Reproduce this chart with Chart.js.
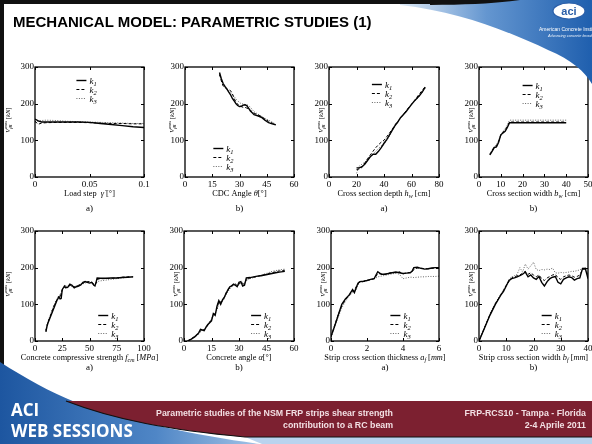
<!DOCTYPE html>
<html>
<head>
<meta charset="utf-8">
<script src="https://cdn.jsdelivr.net/npm/chart.js@4.4.1/dist/chart.umd.min.js"></script>
<style>
  html, body { margin: 0; padding: 0; }
  body { width: 592px; height: 444px; overflow: hidden; background: #fff; position: relative; }
  canvas { position: absolute; }
  #deco { position: absolute; left: 0; top: 0; z-index: 5; pointer-events: none; }
</style>
</head>
<body>
<svg id="deco" width="592" height="444">
  <defs>
    <linearGradient id="gt" x1="0" y1="0" x2="1" y2="0">
      <stop offset="0" stop-color="#dde9f6"/>
      <stop offset="0.45" stop-color="#6496d0"/>
      <stop offset="1" stop-color="#1f5fae"/>
    </linearGradient>
    <linearGradient id="gb" x1="0" y1="0" x2="1" y2="0">
      <stop offset="0" stop-color="#1d56a0"/>
      <stop offset="0.6" stop-color="#4f86c6"/>
      <stop offset="1" stop-color="#a3c3e6"/>
    </linearGradient>
  </defs>
  <!-- top bar and swoosh -->
  <path d="M400,0 L592,0 L592,84 C585,72 572,60 548,50 C505,30 460,12 400,5 Z" fill="url(#gt)"/>
  <rect x="0" y="0" width="470" height="4" fill="#111"/>
  <path d="M430,0 L520,0 C500,3 470,5 430,5 Z" fill="#111"/>
  <rect x="0" y="0" width="4" height="444" fill="#111"/>
  <ellipse cx="569" cy="11" rx="16" ry="8" fill="#fff" stroke="#2a5ea8" stroke-width="1.2"/>
  <text x="569" y="15" text-anchor="middle" font-family="Liberation Sans, Arial" font-weight="bold" font-size="11" fill="#2a5ea8">aci</text>
  <text x="539" y="31" font-family="Liberation Sans, Arial" font-size="5" fill="#fff">American Concrete Institute</text>
  <text x="548" y="37" font-family="Liberation Sans, Arial" font-style="italic" font-size="3.8" fill="#e8f0fa">Advancing concrete knowledge</text>
  <text x="13" y="27" font-family="Liberation Sans, Arial" font-weight="bold" font-size="15" fill="#000">MECHANICAL MODEL: PARAMETRIC STUDIES (1)</text>
  <!-- bottom band -->
  <path d="M0,362 C25,378 50,392 75,402 C130,422 200,436 260,444 L0,444 Z" fill="url(#gb)"/>
  <path d="M66,401 L592,401 L592,437 L245,437 C170,430 115,420 66,401 Z" fill="#7c2030"/>
  <path d="M245,437 L592,437 L592,444 L262,444 Z" fill="#b9d3ee"/>
  <path d="M66,401 C115,420 170,430 245,437 L592,437" stroke="#111" stroke-width="1.2" fill="none"/>
  <text x="11" y="416" font-family="Open Sans" font-weight="bold" font-size="17" fill="#fff">ACI</text>
  <text x="11" y="437" font-family="Open Sans" font-weight="bold" font-size="17" fill="#fff">WEB SESSIONS</text>
  <g font-family="Liberation Sans, Arial" font-weight="bold" font-size="8.8" fill="#f2dfe3" text-anchor="end">
    <text x="393" y="416">Parametric studies of the NSM FRP strips shear strength</text>
    <text x="393" y="428">contribution to a RC beam</text>
    <text x="586" y="416">FRP-RCS10  - Tampa - Florida</text>
    <text x="586" y="428">2-4 Aprile 2011</text>
  </g>
</svg>
<script>
const SERIF = "'Liberation Serif', 'Times New Roman', serif";
const yTicks = [0, 100, 200, 300];

// a) load step
const c1x  = [0, 0.003, 0.006, 0.01, 0.02, 0.03, 0.04, 0.05, 0.06, 0.07, 0.08, 0.09, 0.1];
const c1k1 = [158, 153, 150, 150, 150, 150, 150, 149, 146, 143, 140, 137, 135];
const c1k2 = [152, 144, 147, 148, 149, 149, 149, 148, 147, 146, 146, 145, 145];
const c1k3 = [150, 152, 154, 155, 154, 152, 151, 150, 149, 148, 147, 146, 146];
const c1xt = [0, 0.05, 0.1];

// b) CDC angle
const c2x  = [19, 20, 21, 22, 23, 24, 25, 26, 27, 28, 29, 30, 31, 32, 33, 34, 35, 36, 37, 38, 40, 42, 44, 46, 48, 50];
const c2k1 = [285, 268, 255, 247, 240, 232, 225, 215, 208, 200, 195, 192, 193, 196, 197, 195, 188, 180, 175, 170, 167, 163, 155, 148, 145, 142];
const c2k2 = [280, 262, 248, 245, 240, 238, 236, 228, 215, 205, 198, 195, 192, 190, 190, 188, 186, 182, 178, 174, 170, 165, 158, 152, 147, 143];
const c2k3 = [278, 265, 252, 245, 240, 235, 230, 225, 220, 213, 208, 203, 200, 199, 198, 197, 195, 190, 184, 178, 172, 166, 160, 155, 150, 144];
const c2xt = [0, 15, 30, 45, 60];

// a) cross section depth
const c3x  = [20, 22, 24, 26, 28, 30, 32, 34, 36, 38, 40, 42, 44, 46, 48, 50, 52, 54, 56, 58, 60, 62, 64, 66, 68, 70];
const c3k1 = [25, 25, 28, 35, 45, 55, 62, 62, 70, 80, 92, 102, 115, 128, 140, 150, 162, 170, 178, 188, 198, 207, 215, 223, 233, 245];
const c3k2 = [20, 22, 26, 38, 50, 60, 70, 80, 88, 95, 100, 110, 120, 130, 142, 152, 160, 170, 180, 190, 198, 208, 218, 228, 237, 247];
const c3k3 = [10, 30, 35, 40, 48, 55, 62, 70, 78, 85, 88, 100, 112, 125, 138, 150, 160, 170, 180, 188, 196, 205, 213, 222, 232, 243];
const c3xt = [0, 20, 40, 60, 80];

// b) cross section width
const c4x  = [5, 6, 7, 8, 9, 10, 11, 12, 13, 14, 20, 25, 30, 35, 40];
const c4k1 = [60, 70, 80, 82, 95, 115, 120, 125, 135, 148, 148, 148, 148, 148, 148];
const c4k2 = [62, 72, 82, 85, 97, 113, 122, 128, 138, 150, 150, 150, 150, 150, 150];
const c4k3 = [63, 74, 83, 88, 100, 115, 125, 132, 142, 155, 155, 155, 155, 155, 155];
const c4xt = [0, 10, 20, 30, 40, 50];

// a) concrete compressive strength
const c5x  = [10, 11, 12, 14, 16, 18, 20, 22, 23, 24, 25, 27, 28, 30, 32, 34, 36, 38, 40, 42, 44, 46, 48, 50, 52, 54, 55, 56, 57, 60, 65, 70, 75, 80, 85, 90];
const c5k1 = [25, 40, 50, 65, 80, 95, 110, 120, 115, 116, 140, 150, 145, 146, 155, 152, 145, 148, 150, 153, 160, 162, 160, 158, 160, 152, 150, 160, 172, 171, 171, 172, 172, 173, 174, 175];
const c5k2 = [28, 42, 52, 68, 85, 100, 112, 122, 118, 130, 140, 148, 150, 148, 152, 150, 148, 150, 152, 155, 158, 160, 162, 162, 160, 155, 153, 158, 168, 170, 170, 171, 172, 174, 175, 175];
const c5k3 = [30, 45, 55, 70, 88, 102, 114, 125, 125, 132, 142, 145, 148, 150, 150, 148, 147, 150, 152, 155, 156, 158, 160, 160, 158, 156, 155, 155, 162, 164, 166, 168, 170, 172, 174, 176];
const c5xt = [0, 25, 50, 75, 100];

// b) concrete angle
const c6x  = [2, 4, 6, 8, 9, 10, 11, 12, 13, 14, 15, 16, 17, 18, 19, 20, 21, 22, 23, 24, 25, 26, 27, 28, 29, 30, 31, 32, 33, 34, 36, 38, 40, 42, 44, 46, 48, 50, 52, 55];
const c6k1 = [0, 5, 12, 22, 32, 30, 28, 38, 45, 50, 55, 75, 70, 95, 110, 100, 112, 120, 130, 140, 148, 150, 155, 152, 148, 160, 162, 150, 152, 172, 173, 175, 177, 178, 180, 182, 184, 186, 188, 190];
const c6k2 = [0, 6, 13, 20, 28, 32, 30, 36, 44, 52, 58, 72, 74, 90, 108, 106, 110, 118, 132, 138, 146, 152, 153, 156, 150, 155, 160, 156, 155, 168, 172, 174, 176, 179, 181, 184, 186, 189, 191, 193];
const c6k3 = [0, 5, 12, 18, 25, 30, 32, 35, 42, 50, 60, 68, 75, 85, 100, 108, 108, 115, 128, 135, 142, 148, 150, 155, 152, 152, 158, 160, 158, 165, 170, 173, 176, 180, 183, 186, 190, 192, 194, 196];
const c6xt = [0, 15, 30, 45, 60];

// a) strip thickness
const c7x  = [0, 0.2, 0.4, 0.6, 0.8, 1.0, 1.2, 1.3, 1.4, 1.5, 1.6, 1.8, 2.0, 2.2, 2.4, 2.5, 2.6, 2.8, 3.0, 3.2, 3.4, 3.6, 3.8, 4.0, 4.2, 4.4, 4.5, 4.6, 4.8, 5.0, 5.2, 5.4, 5.6, 5.8, 6.0];
const c7k1 = [12, 40, 70, 100, 115, 125, 140, 132, 145, 158, 162, 163, 165, 168, 170, 180, 189, 182, 182, 184, 186, 188, 186, 184, 185, 186, 190, 200, 201, 198, 196, 197, 199, 200, 200];
const c7k2 = [12, 42, 72, 96, 112, 124, 136, 138, 148, 156, 160, 162, 165, 167, 170, 176, 184, 183, 182, 185, 187, 186, 189, 183, 186, 187, 188, 195, 199, 199, 197, 197, 198, 199, 200];
const c7k3 = [10, 38, 65, 90, 108, 122, 132, 135, 140, 152, 160, 163, 165, 168, 170, 172, 175, 177, 179, 181, 183, 185, 182, 170, 172, 174, 174, 173, 174, 175, 175, 176, 176, 176, 177];
const c7xt = [0, 2, 4, 6];

// b) strip width
const c8x  = [0, 2, 4, 6, 8, 9, 10, 11, 12, 13, 14, 15, 16, 17, 18, 19, 20, 21, 22, 23, 24, 25, 26, 27, 28, 29, 30, 31, 32, 33, 34, 35, 36, 37, 38, 39, 40];
const c8k1 = [0, 35, 70, 100, 125, 135, 150, 165, 170, 172, 175, 178, 182, 188, 175, 180, 172, 168, 176, 160, 150, 162, 170, 174, 176, 160, 156, 168, 172, 175, 173, 166, 170, 172, 198, 198, 170];
const c8k2 = [0, 36, 72, 102, 126, 138, 152, 162, 172, 175, 178, 180, 185, 190, 182, 186, 180, 175, 180, 170, 165, 172, 176, 180, 182, 172, 168, 175, 178, 180, 178, 174, 176, 180, 195, 196, 178];
const c8k3 = [0, 37, 74, 103, 128, 140, 153, 168, 175, 178, 182, 200, 188, 210, 196, 205, 215, 195, 192, 195, 194, 196, 195, 199, 186, 185, 187, 186, 187, 188, 190, 190, 192, 194, 198, 200, 186];
const c8xt = [0, 10, 20, 30, 40];

// rich text bits: roman, italic, italic subscript
const R = t => ({ t }), I = t => ({ t, i: true }), S = t => ({ t, i: true, b: true });
const yTitle = [I('V'), { st: ['max', 'fR'] }, R(' ['), I('kN'), R(']')];

function drawRich(ctx, parts, x, y, align, size) {
  const sm = size * 0.72;
  const F = (it, s) => (it ? 'italic ' : '') + s + 'px ' + SERIF;
  const meas = p => {
    if (p.st) {
      ctx.font = F(true, sm);
      return Math.max(ctx.measureText(p.st[0]).width, ctx.measureText(p.st[1]).width);
    }
    ctx.font = F(p.i, p.b ? sm : size);
    return ctx.measureText(p.t).width;
  };
  const total = parts.reduce((s, p) => s + meas(p), 0);
  let cx = align === 'center' ? x - total / 2 : align === 'right' ? x - total : x;
  ctx.textAlign = 'left';
  ctx.textBaseline = 'alphabetic';
  ctx.fillStyle = '#000';
  parts.forEach(p => {
    const w = meas(p);
    if (p.st) {
      ctx.fillText(p.st[0], cx, y - size * 0.45);
      ctx.fillText(p.st[1], cx, y + size * 0.25);
    } else {
      ctx.fillText(p.t, cx, p.b ? y + size * 0.25 : y);
    }
    cx += w;
  });
}

const styles = [
  { borderColor: '#000', borderWidth: 1.4 },
  { borderColor: '#000', borderWidth: 1, borderDash: [3, 2] },
  { borderColor: '#666', borderWidth: 1, borderDash: [1, 1.5] },
];

const panels = [
  { left: 35, top: 67, w: 109, x: c1x, k: [c1k1, c1k2, c1k3], xr: [0, 0.1], xt: c1xt,
    title: [R('Load step  '), I('γ̇'), R(' [°]')], tag: 'a)', tagY: 34, leg: [0.38, 0.12], ylx: -27 },
  { left: 185, top: 67, w: 109, x: c2x, k: [c2k1, c2k2, c2k3], xr: [0, 60], xt: c2xt,
    title: [R('CDC Angle '), I('θ'), R('[°]')], tag: 'b)', tagY: 34, leg: [0.26, 0.74], ylx: -13 },
  { left: 329, top: 67, w: 110, x: c3x, k: [c3k1, c3k2, c3k3], xr: [0, 80], xt: c3xt,
    title: [R('Cross section depth '), I('h'), S('w'), R(' [cm]')], tag: 'a)', tagY: 34, leg: [0.39, 0.15], ylx: -8 },
  { left: 479, top: 67, w: 109, x: c4x, k: [c4k1, c4k2, c4k3], xr: [0, 50], xt: c4xt,
    title: [R('Cross section width '), I('b'), S('w'), R(' [cm]')], tag: 'b)', tagY: 34, leg: [0.40, 0.16], ylx: -8 },
  { left: 35, top: 231, w: 109, x: c5x, k: [c5k1, c5k2, c5k3], xr: [0, 100], xt: c5xt,
    title: [R('Concrete compressive strength '), I('f'), S('cm'), R(' ['), I('MPa'), R(']')], tag: 'a)', tagY: 29, leg: [0.58, 0.76], ylx: -27 },
  { left: 184, top: 231, w: 110, x: c6x, k: [c6k1, c6k2, c6k3], xr: [0, 60], xt: c6xt,
    title: [R('Concrete angle '), I('α'), R('[°]')], tag: 'b)', tagY: 29, leg: [0.61, 0.76], ylx: -8 },
  { left: 331, top: 231, w: 108, x: c7x, k: [c7k1, c7k2, c7k3], xr: [0, 6], xt: c7xt,
    title: [R('Strip cross section thickness '), I('a'), S('f'), R(' ['), I('mm'), R(']')], tag: 'a)', tagY: 29, leg: [0.55, 0.76], ylx: -8 },
  { left: 479, top: 231, w: 109, x: c8x, k: [c8k1, c8k2, c8k3], xr: [0, 40], xt: c8xt,
    title: [R('Strip cross section width '), I('b'), S('f'), R(' ['), I('mm'), R(']')], tag: 'b)', tagY: 29, leg: [0.575, 0.76], ylx: -8 },
];

const PH = 110, PADL = 36, PADT = 8, PADR = 24, XH = 42;

function makeDeco(p) {
  return {
    id: 'deco',
    afterDatasetsDraw(chart) {
      const { ctx, chartArea: a, scales: { x, y } } = chart;
      ctx.save();
      ctx.strokeStyle = '#000';
      ctx.lineWidth = 1;
      // inward ticks on all four sides
      ctx.beginPath();
      x.ticks.forEach(t => {
        const px = Math.round(x.getPixelForValue(t.value)) + 0.5;
        ctx.moveTo(px, a.bottom); ctx.lineTo(px, a.bottom - 3);
        ctx.moveTo(px, a.top); ctx.lineTo(px, a.top + 3);
      });
      y.ticks.forEach(t => {
        const py = Math.round(y.getPixelForValue(t.value)) + 0.5;
        ctx.moveTo(a.left, py); ctx.lineTo(a.left + 3, py);
        ctx.moveTo(a.right, py); ctx.lineTo(a.right - 3, py);
      });
      ctx.stroke();
      ctx.lineWidth = 1.3;
      ctx.strokeRect(a.left, a.top, a.width, a.height);

      // x title and panel tag
      const mx = (a.left + a.right) / 2;
      drawRich(ctx, p.title, mx, a.bottom + 19, 'center', 8.3);
      drawRich(ctx, [R(p.tag)], mx, a.bottom + p.tagY, 'center', 9);

      // y title
      ctx.save();
      ctx.translate(a.left + p.ylx, y.getPixelForValue(155));
      ctx.rotate(-Math.PI / 2);
      drawRich(ctx, yTitle, 0, 2.3, 'center', 6.6);
      ctx.restore();

      // legend inside the box
      const lx = a.left + p.leg[0] * a.width, ly0 = a.top + p.leg[1] * a.height;
      chart.data.datasets.forEach((d, i) => {
        const ly = Math.round(ly0 + i * 9) + 0.5;
        ctx.strokeStyle = d.borderColor;
        ctx.lineWidth = d.borderWidth;
        ctx.setLineDash(d.borderDash || []);
        ctx.beginPath(); ctx.moveTo(lx, ly); ctx.lineTo(lx + 10, ly); ctx.stroke();
        ctx.setLineDash([]);
        drawRich(ctx, [I('k'), S(String(i + 1))], lx + 13, ly + 3, 'left', 9);
      });
      ctx.restore();
    }
  };
}

const deco = document.getElementById('deco');
panels.forEach(p => {
  const cv = document.createElement('canvas');
  cv.width = PADL + p.w + PADR;
  cv.height = PADT + PH + XH;
  cv.style.left = (p.left - PADL) + 'px';
  cv.style.top = (p.top - PADT) + 'px';
  document.body.insertBefore(cv, deco);

  new Chart(cv, {
    type: 'line',
    data: {
      datasets: p.k.map((ys, i) => Object.assign({
        label: 'k' + (i + 1),
        data: p.x.map((v, j) => ({ x: v, y: ys[j] })),
        pointRadius: 0,
        fill: false,
        tension: 0,
      }, styles[i]))
    },
    options: {
      responsive: false,
      animation: false,
      devicePixelRatio: 1,
      events: [],
      layout: { padding: { top: PADT, right: PADR, left: 0, bottom: 0 } },
      scales: {
        x: {
          type: 'linear', min: p.xr[0], max: p.xr[1],
          afterBuildTicks: s => { s.ticks = p.xt.map(v => ({ value: v })); },
          afterFit: s => { s.height = XH; },
          grid: { display: false, drawTicks: false },
          border: { display: false },
          ticks: { font: { family: SERIF, size: 9 }, color: '#000', padding: 2,
                   maxRotation: 0, autoSkip: false, callback: v => String(v) }
        },
        y: {
          min: 0, max: 300,
          afterBuildTicks: s => { s.ticks = yTicks.map(v => ({ value: v })); },
          afterFit: s => { s.width = PADL; },
          grid: { display: false, drawTicks: false },
          border: { display: false },
          ticks: { font: { family: SERIF, size: 9 }, color: '#000', padding: 1,
                   autoSkip: false, callback: v => String(v) }
        }
      },
      plugins: { legend: { display: false }, tooltip: { enabled: false } }
    },
    plugins: [makeDeco(p)]
  });
});
</script>
</body>
</html>
